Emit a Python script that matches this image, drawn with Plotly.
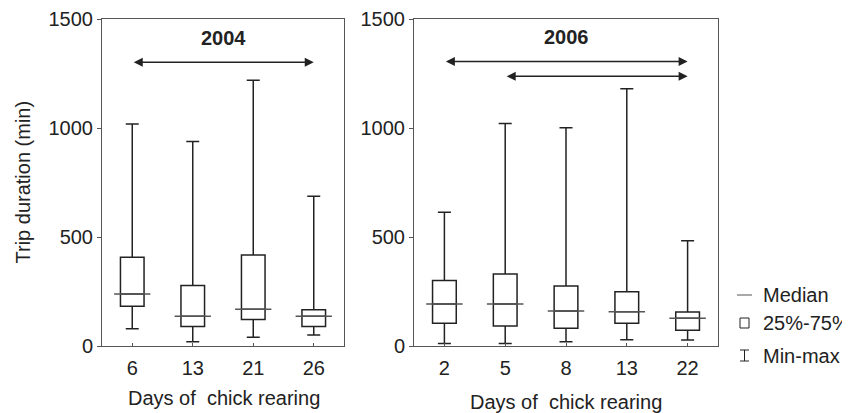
import plotly.graph_objects as go

# ---- data ----
days_2004 = ["6", "13", "21", "26"]
min_2004 = [79, 20, 40, 50]
q1_2004 = [182, 90, 121, 90]
med_2004 = [238, 137, 169, 137]
q3_2004 = [407, 278, 417, 166]
max_2004 = [1018, 938, 1219, 687]

days_2006 = ["2", "5", "8", "13", "22"]
min_2006 = [11, 11, 20, 29, 28]
q1_2006 = [104, 92, 81, 104, 72]
med_2006 = [193, 193, 161, 157, 127]
q3_2006 = [300, 330, 275, 249, 156]
max_2006 = [613, 1021, 1001, 1180, 483]

# significance arrows: (from day, to day, level)
arrows_2004 = [("6", "26", 1302)]
arrows_2006 = [("2", "22", 1305), ("5", "22", 1237)]

yticks = [0, 500, 1000, 1500]

# page body has an 8px margin, so the figure is drawn 8px in from the corner
OFF = 8
W, H = 850 - OFF, 413 - OFF

def px(x):
    return (x - OFF) / W

def py(y):
    return 1 - (y - OFF) / H

FONT = "Liberation Sans, Arial, sans-serif"
FS = 20
TXT = "#222222"
FRAME = "#555555"
BOX = "#222222"
MED = "#555555"

fig = go.Figure()

def add_panel(days, mn, q1, md, q3, mx, xa, ya):
    pos = list(range(len(days)))
    fig.add_trace(go.Box(
        x=pos, q1=q1, median=md, q3=q3, lowerfence=mn, upperfence=mx,
        width=0.39, whiskerwidth=0.55, boxpoints=False,
        line=dict(color=BOX, width=1.5), fillcolor="white",
        xaxis=xa, yaxis=ya, showlegend=False, hoverinfo="skip"))
    mx_, my_ = [], []
    for p, m in zip(pos, md):
        mx_ += [p - 0.3, p + 0.3, None]
        my_ += [m, m, None]
    fig.add_trace(go.Scatter(x=mx_, y=my_, mode="lines",
                             line=dict(color=MED, width=1.5),
                             xaxis=xa, yaxis=ya, showlegend=False,
                             hoverinfo="skip"))

add_panel(days_2004, min_2004, q1_2004, med_2004, q3_2004, max_2004, "x", "y")
add_panel(days_2006, min_2006, q1_2006, med_2006, q3_2006, max_2006, "x2", "y2")

ytop = py(19)
ybot = py(346)

axis_common = dict(showline=True, linecolor=FRAME, linewidth=1, mirror=True,
                   showgrid=False, zeroline=False, automargin=False,
                   tickfont=dict(family=FONT, size=FS, color=TXT),
                   tickcolor=FRAME)

fig.update_layout(
    template="none",
    width=W, height=H, margin=dict(l=0, r=0, t=0, b=0, pad=0),
    paper_bgcolor="white", plot_bgcolor="white",
    xaxis=dict(domain=[px(102), px(344)], range=[-0.5, len(days_2004) - 0.5],
               tickvals=list(range(len(days_2004))), ticktext=days_2004,
               ticks="inside", ticklen=3, ticklabelstandoff=4, anchor="y",
               **axis_common),
    yaxis=dict(domain=[ybot, ytop], range=[0, 1500], tickvals=yticks,
               ticks="outside", ticklen=4, anchor="x", **axis_common),
    xaxis2=dict(domain=[px(414), px(718)], range=[-0.5, len(days_2006) - 0.5],
                tickvals=list(range(len(days_2006))), ticktext=days_2006,
                ticks="inside", ticklen=3, ticklabelstandoff=4, anchor="y2",
                **axis_common),
    yaxis2=dict(domain=[ybot, ytop], range=[0, 1500], tickvals=yticks,
                ticks="outside", ticklen=4, anchor="x2", **axis_common),
)

ann = []

def add_arrows(arrows, days, xr, yr):
    for a, b, lev in arrows:
        ann.append(dict(x=days.index(b), y=lev, ax=days.index(a), ay=lev,
                        xref=xr, yref=yr, axref=xr, ayref=yr, text="",
                        showarrow=True, arrowside="end+start",
                        arrowhead=2, startarrowhead=2, arrowsize=1.2,
                        startarrowsize=1.2, arrowwidth=1.5, arrowcolor=BOX))

add_arrows(arrows_2004, days_2004, "x", "y")
add_arrows(arrows_2006, days_2006, "x2", "y2")

ann.append(dict(x=(len(days_2004) - 1) / 2, y=1415, xref="x", yref="y",
                text="<b>2004</b>", showarrow=False,
                font=dict(family=FONT, size=FS, color=TXT)))
ann.append(dict(x=(len(days_2006) - 1) / 2, y=1418, xref="x2", yref="y2",
                text="<b>2006</b>", showarrow=False,
                font=dict(family=FONT, size=FS, color=TXT)))

# axis titles
ann.append(dict(x=px(22), y=(ytop + ybot) / 2, xref="paper", yref="paper",
                text="Trip duration (min)", textangle=-90, showarrow=False,
                xanchor="center", yanchor="middle",
                font=dict(family=FONT, size=FS, color=TXT)))
ann.append(dict(x=px(224), y=py(398), xref="paper", yref="paper",
                text="Days of  chick rearing", showarrow=False,
                xanchor="center", yanchor="middle",
                font=dict(family=FONT, size=FS, color=TXT)))
ann.append(dict(x=px(566), y=py(402), xref="paper", yref="paper",
                text="Days of  chick rearing", showarrow=False,
                xanchor="center", yanchor="middle",
                font=dict(family=FONT, size=FS, color=TXT)))

# legend
legend_labels = ["Median", "25%-75%", "Min-max"]
legend_y = [295, 323, 356]
for lab, yy in zip(legend_labels, legend_y):
    ann.append(dict(x=px(761), y=py(yy), xref="paper", yref="paper",
                    text=lab, showarrow=False, xanchor="left",
                    yanchor="middle",
                    font=dict(family=FONT, size=FS, color=TXT)))

fig.update_layout(annotations=ann)

shp = []
# median symbol
shp.append(dict(type="line", xref="paper", yref="paper",
                x0=px(737), x1=px(752), y0=py(295), y1=py(295),
                line=dict(color=MED, width=1)))
# box symbol
shp.append(dict(type="rect", xref="paper", yref="paper",
                x0=px(740), x1=px(749), y0=py(328), y1=py(318),
                line=dict(color=BOX, width=1), fillcolor="white"))
# min-max symbol
shp.append(dict(type="line", xref="paper", yref="paper",
                x0=px(744.5), x1=px(744.5), y0=py(361), y1=py(350),
                line=dict(color=BOX, width=1)))
for yy in (350, 361):
    shp.append(dict(type="line", xref="paper", yref="paper",
                    x0=px(740), x1=px(749), y0=py(yy), y1=py(yy),
                    line=dict(color=BOX, width=1)))
fig.update_layout(shapes=shp)

fig.write_html("out.html")
